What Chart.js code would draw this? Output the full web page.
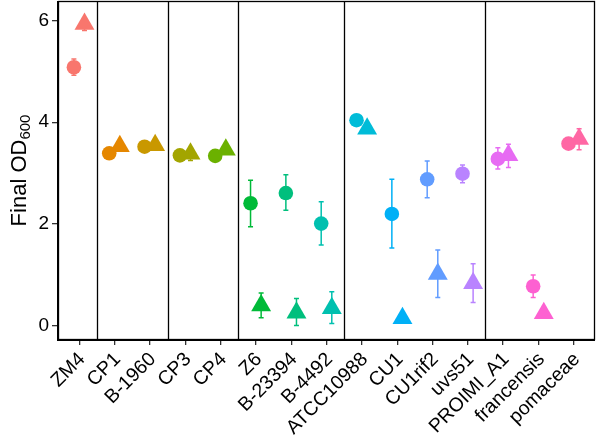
<!DOCTYPE html>
<html>
<head>
<meta charset="utf-8">
<script src="https://cdn.jsdelivr.net/npm/chart.js@4.4.1/dist/chart.umd.min.js"></script>
<style>
  html, body { margin: 0; padding: 0; background: #fff; }
  #wrap { width: 597px; height: 440px; }
</style>
</head>
<body>
<div id="wrap"><canvas id="c" width="597" height="440"></canvas></div>
<script>
// ---- data ----
const categories = ['ZM4','CP1','B-1960','CP3','CP4','Z6','B-23394','B-4492','ATCC10988','CU1','CU1rif2','uvs51','PROIMI_A1','francensis','pomaceae'];
const colors = ['#F8766D','#E58700','#C99800','#A3A500','#6BB100','#00BA38','#00BF7D','#00C0AF','#00BCD8','#00B0F6','#619CFF','#B983FF','#E76BF3','#FD61D1','#FF67A4'];
const circleMean = [5.08, 3.39, 3.52, 3.35, 3.34, 2.41, 2.61, 2.01, 4.04, 2.20, 2.88, 2.99, 3.28, 0.78, 3.58];
const circleLow  = [4.92, 3.33, 3.47, 3.29, 3.29, 1.95, 2.27, 1.59, 3.98, 1.53, 2.52, 2.81, 3.08, 0.56, 3.50];
const circleHigh = [5.24, 3.45, 3.57, 3.41, 3.39, 2.86, 2.97, 2.44, 4.10, 2.88, 3.24, 3.16, 3.50, 1.00, 3.66];
const triMean = [5.93, 3.53, 3.55, 3.38, 3.46, 0.40, 0.26, 0.35, 3.87, 0.15, 1.02, 0.84, 3.35, 0.25, 3.67];
const triLow  = [5.80, 3.48, 3.50, 3.25, 3.40, 0.16, 0.01, 0.05, 3.82, 0.12, 0.56, 0.46, 3.11, 0.22, 3.46];
const triHigh = [6.05, 3.58, 3.60, 3.46, 3.52, 0.65, 0.54, 0.67, 3.92, 0.18, 1.49, 1.22, 3.57, 0.28, 3.87];
const groupBreaks = [1.5, 3.5, 5.5, 8.5, 12.5];
const yTicks = [0, 2, 4, 6];

const DODGE = 0.15;
const FONT = "'Liberation Sans', Arial, Helvetica, sans-serif";
const AREA = { left: 58, top: 1, right: 595, bottom: 340 };

function pts(means, off) {
  return means.map((v, i) => ({ x: i + 1 + off, y: v }));
}

const areaPlugin = {
  id: 'area',
  afterLayout(chart) {
    const ca = chart.chartArea;
    Object.assign(ca, AREA);
    ca.width = AREA.right - AREA.left;
    ca.height = AREA.bottom - AREA.top;
    const xs = chart.scales.x, ys = chart.scales.y;
    xs.left = AREA.left; xs.right = AREA.right; xs.width = ca.width;
    xs.top = AREA.bottom; xs.bottom = chart.height; xs.height = chart.height - AREA.bottom;
    ys.top = AREA.top; ys.bottom = AREA.bottom; ys.height = ca.height;
    ys.left = 0; ys.right = AREA.left; ys.width = AREA.left;
    xs.configure(); ys.configure();
  }
};

const errorPlugin = {
  id: 'errs',
  beforeDatasetsDraw(chart) {
    const ctx = chart.ctx, xs = chart.scales.x, ys = chart.scales.y, a = chart.chartArea;
    ctx.save();
    ctx.strokeStyle = '#000';
    ctx.lineWidth = 1.3;
    groupBreaks.forEach(b => {
      const px = Math.round(xs.getPixelForValue(b)) + 0.5;
      ctx.beginPath(); ctx.moveTo(px, a.top); ctx.lineTo(px, a.bottom); ctx.stroke();
    });
    const drawErr = (lo, hi, off) => {
      categories.forEach((c, i) => {
        const px = xs.getPixelForValue(i + 1 + off);
        const p1 = ys.getPixelForValue(lo[i]), p2 = ys.getPixelForValue(hi[i]);
        ctx.strokeStyle = colors[i];
        ctx.lineWidth = 1.5;
        ctx.beginPath();
        ctx.moveTo(px, p1); ctx.lineTo(px, p2);
        ctx.moveTo(px - 2.5, p1); ctx.lineTo(px + 2.5, p1);
        ctx.moveTo(px - 2.5, p2); ctx.lineTo(px + 2.5, p2);
        ctx.stroke();
      });
    };
    drawErr(circleLow, circleHigh, -DODGE);
    drawErr(triLow, triHigh, DODGE);
    ctx.restore();
  },
  afterDraw(chart) {
    const ctx = chart.ctx, a = chart.chartArea;
    ctx.save();
    ctx.strokeStyle = '#000';
    ctx.lineWidth = 1.3;
    ctx.strokeRect(a.left + 0.5, a.top + 0.5, a.right - a.left - 1, a.bottom - a.top - 1);
    ctx.lineWidth = 2;
    ctx.beginPath();
    ctx.moveTo(a.left, a.top); ctx.lineTo(a.left, a.bottom); ctx.lineTo(a.right, a.bottom);
    ctx.stroke();
    const cy = (a.top + a.bottom) / 2;
    ctx.translate(18, cy);
    ctx.rotate(-Math.PI / 2);
    ctx.fillStyle = '#000';
    ctx.textBaseline = 'alphabetic';
    const mainF = '22px ' + FONT, subF = '15px ' + FONT;
    ctx.font = mainF;
    const w1 = ctx.measureText('Final OD').width;
    ctx.font = subF;
    const w2 = ctx.measureText('600').width;
    const x0 = -(w1 + w2) / 2;
    ctx.font = mainF;
    ctx.fillText('Final OD', x0, 8);
    ctx.font = subF;
    ctx.fillText('600', x0 + w1, 12);
    ctx.restore();
  }
};

new Chart(document.getElementById('c'), {
  type: 'scatter',
  data: {
    datasets: [
      {
        label: 'circle',
        data: pts(circleMean, -DODGE),
        pointStyle: 'circle',
        pointRadius: 7.3,
        pointHoverRadius: 7.3,
        pointBackgroundColor: colors,
        pointBorderColor: colors,
        pointBorderWidth: 0
      },
      {
        label: 'triangle',
        data: pts(triMean, DODGE),
        pointStyle: 'triangle',
        pointRadius: 11.5,
        pointHoverRadius: 11.5,
        pointBackgroundColor: colors,
        pointBorderColor: colors,
        pointBorderWidth: 0
      }
    ]
  },
  options: {
    responsive: false,
    animation: false,
    events: [],
    layout: { padding: { top: 1, right: 2, left: 0, bottom: 0 } },
    plugins: { legend: { display: false }, tooltip: { enabled: false } },
    scales: {
      x: {
        type: 'linear',
        min: 0.4,
        max: 15.6,
        afterBuildTicks(scale) { scale.ticks = categories.map((c, i) => ({ value: i + 1 })); },
        ticks: {
          autoSkip: false,
          minRotation: 45,
          maxRotation: 45,
          padding: 3,
          labelOffset: 3,
          color: '#000',
          font: { family: FONT, size: 19.5 },
          callback(v, idx) { return categories[idx]; }
        },
        grid: { drawOnChartArea: false, drawTicks: true, tickLength: 5, color: '#333', lineWidth: 1.3 },
        border: { display: false }
      },
      y: {
        type: 'linear',
        min: -0.275,
        max: 6.38,
        afterBuildTicks(scale) { scale.ticks = yTicks.map(v => ({ value: v })); },
        ticks: {
          padding: 3,
          color: '#000',
          font: { family: FONT, size: 19 },
          callback(v) { return String(v); }
        },
        grid: { drawOnChartArea: false, drawTicks: true, tickLength: 6, color: '#333', lineWidth: 1.3 },
        border: { display: false }
      }
    }
  },
  plugins: [areaPlugin, errorPlugin]
});
</script>
</body>
</html>
